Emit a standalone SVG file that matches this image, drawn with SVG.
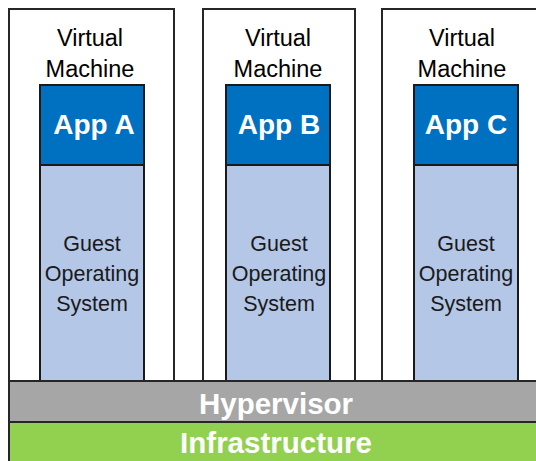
<svg xmlns="http://www.w3.org/2000/svg" width="536" height="461" viewBox="0 0 536 461">
  <style>
    .vm { fill: #ffffff; stroke: #262626; stroke-width: 2; }
    .app { fill: #0070c0; stroke: #1a1a1a; stroke-width: 2; }
    .os { fill: #b4c7e7; stroke: #1a1a1a; stroke-width: 2; }
    .vmlabel { font-family: "Liberation Sans", Arial, sans-serif; font-size: 23.5px; fill: #000; text-anchor: middle; }
    .applabel { font-family: "Liberation Sans", Arial, sans-serif; font-size: 28px; font-weight: bold; fill: #fff; text-anchor: middle; }
    .oslabel { font-family: "Liberation Sans", Arial, sans-serif; font-size: 21.5px; fill: #1a1a1a; text-anchor: middle; }
    .barlabel { font-family: "Liberation Sans", Arial, sans-serif; font-size: 29.5px; font-weight: bold; fill: #fff; text-anchor: middle; }
  </style>

  <!-- Virtual machine A -->
  <g id="vm-a">
    <rect class="vm" x="9" y="9" width="165" height="380"/>
    <text class="vmlabel" x="90" y="46">Virtual</text>
    <text class="vmlabel" x="90" y="77">Machine</text>
    <rect class="os" x="40" y="165" width="104" height="224"/>
    <rect class="app" x="40" y="85" width="104" height="80"/>
    <text class="applabel" x="94" y="134">App A</text>
    <text class="oslabel" x="92" y="251">Guest</text>
    <text class="oslabel" x="92" y="281">Operating</text>
    <text class="oslabel" x="92" y="311">System</text>
  </g>

  <!-- Virtual machine B -->
  <g id="vm-b">
    <rect class="vm" x="203" y="9" width="152" height="380"/>
    <text class="vmlabel" x="278" y="46">Virtual</text>
    <text class="vmlabel" x="278" y="77">Machine</text>
    <rect class="os" x="226" y="165" width="104" height="224"/>
    <rect class="app" x="226" y="85" width="104" height="80"/>
    <text class="applabel" x="279" y="134">App B</text>
    <text class="oslabel" x="279" y="251">Guest</text>
    <text class="oslabel" x="279" y="281">Operating</text>
    <text class="oslabel" x="279" y="311">System</text>
  </g>

  <!-- Virtual machine C -->
  <g id="vm-c">
    <rect class="vm" x="382" y="9" width="170" height="380"/>
    <text class="vmlabel" x="462" y="46">Virtual</text>
    <text class="vmlabel" x="462" y="77">Machine</text>
    <rect class="os" x="414" y="165" width="104" height="224"/>
    <rect class="app" x="414" y="85" width="104" height="80"/>
    <text class="applabel" x="466" y="134">App C</text>
    <text class="oslabel" x="466" y="251">Guest</text>
    <text class="oslabel" x="466" y="281">Operating</text>
    <text class="oslabel" x="466" y="311">System</text>
  </g>

  <!-- Hypervisor layer -->
  <g id="hypervisor">
    <rect x="9" y="381" width="540" height="41" fill="#a6a6a6" stroke="#262626" stroke-width="2"/>
    <text class="barlabel" x="276" y="414">Hypervisor</text>
  </g>

  <!-- Infrastructure layer -->
  <g id="infrastructure">
    <rect x="9" y="422" width="540" height="45" fill="#92d050" stroke="#262626" stroke-width="2"/>
    <text class="barlabel" x="276" y="453">Infrastructure</text>
  </g>

  <g id="connectors"/>
</svg>
